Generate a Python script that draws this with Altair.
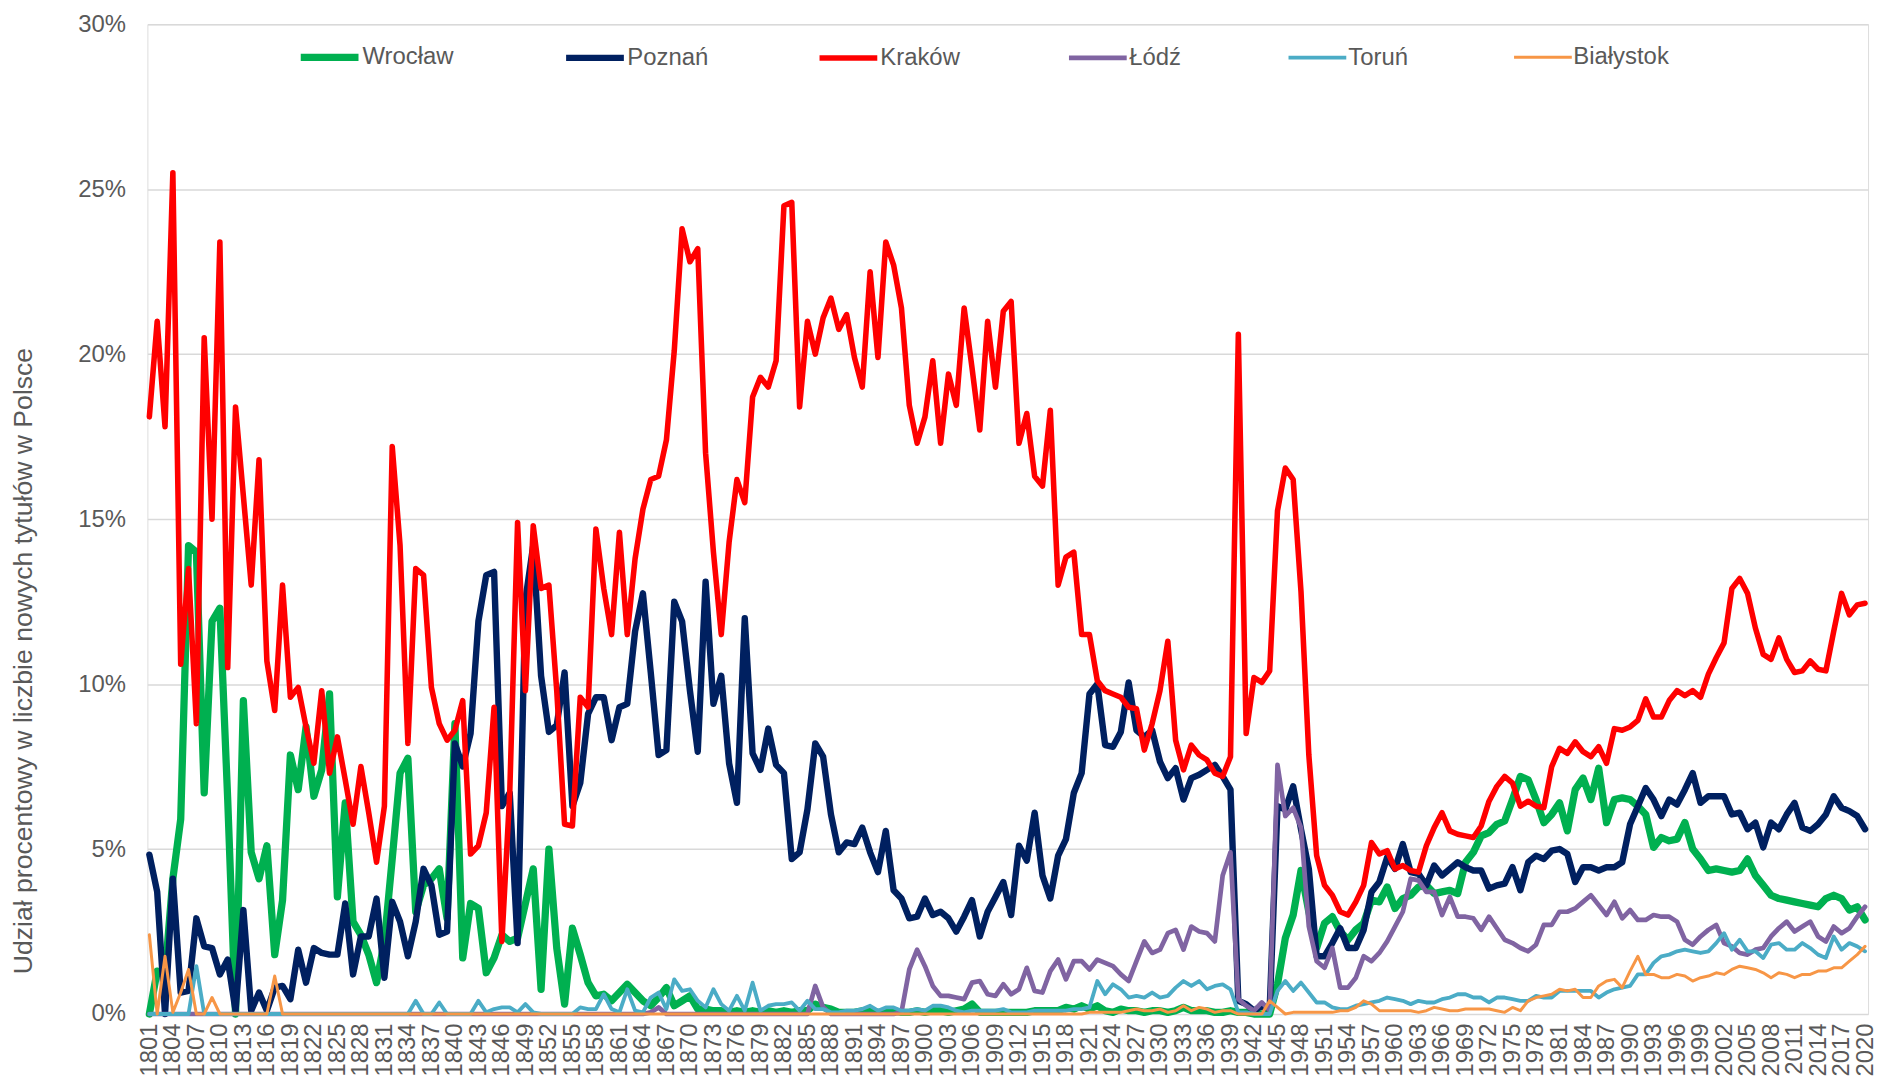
import altair as alt
import pandas as pd

YEARS = list(range(1801, 2021))
CITIES = ["Wrocław", "Poznań", "Kraków", "Łódź", "Toruń", "Białystok"]
COLORS = ["#00B050", "#002060", "#FF0000", "#8064A2", "#4BACC6", "#F79646"]
WIDTHS = [7.3, 3, 3, 3, 3, 3]
X_TICKS = list(range(1801, 2021, 3))
Y_TICKS = [0, 5, 10, 15, 20, 25, 30]

WROCLAW = [
    0, 1.3, 1.2, 4.1, 5.9, 14.2, 14.0, 6.7, 11.9, 12.3,
    6.5, 0, 9.5, 4.9, 4.1, 5.1, 1.8, 3.45, 7.85, 6.8,
    8.7, 6.6, 7.4, 9.7, 3.55, 6.4, 2.8, 2.4, 1.8, 0.95,
    2.2, 4.7, 7.3, 7.75, 3.1, 3.9, 4.1, 4.4, 2.9, 8.8,
    1.7, 3.35, 3.2, 1.25, 1.7, 2.4, 2.2, 2.3, 3.35, 4.4,
    0.75, 5.0, 2.0, 0.3, 2.6, 1.8, 0.95, 0.55, 0.6, 0.4,
    0.65, 0.9, 0.65, 0.4, 0.25, 0.5, 0.8, 0.25, 0.4, 0.55,
    0.15, 0.15, 0.1, 0.1, 0.05, 0.1, 0.05, 0.1, 0.05, 0.1,
    0.05, 0.1, 0.05, 0.1, 0.1, 0.3, 0.2, 0.15, 0.05, 0.05,
    0.05, 0.1, 0.1, 0.05, 0.05, 0.1, 0.05, 0.05, 0.1, 0.05,
    0.1, 0.1, 0.05, 0.1, 0.15, 0.3, 0.05, 0.05, 0.05, 0.05,
    0.05, 0.05, 0.05, 0.1, 0.1, 0.1, 0.1, 0.2, 0.15, 0.25,
    0.15, 0.25, 0.1, 0.05, 0.15, 0.1, 0.1, 0.05, 0.1, 0.1,
    0.05, 0.1, 0.2, 0.1, 0.1, 0.1, 0.05, 0.05, 0.1, 0.05,
    0.05, 0, 0, 0, 0.9, 2.3, 3.0, 4.35, 3.1, 2.0,
    2.75, 2.95, 2.5, 2.25, 2.55, 2.75, 3.45, 3.4, 3.85, 3.2,
    3.5, 3.6, 3.85, 3.9, 3.65, 3.7, 3.75, 3.65, 4.6, 4.9,
    5.4, 5.5, 5.75, 5.85, 6.5, 7.2, 7.1, 6.5, 5.8, 6.05,
    6.4, 5.55, 6.8, 7.15, 6.5, 7.45, 5.8, 6.5, 6.55, 6.5,
    6.3, 6.05, 5.05, 5.35, 5.25, 5.3, 5.8, 5.0, 4.7, 4.35,
    4.4, 4.35, 4.3, 4.35, 4.7, 4.2, 3.9, 3.6, 3.5, 3.45,
    3.4, 3.35, 3.3, 3.25, 3.5, 3.6, 3.5, 3.15, 3.25, 2.85,
]

POZNAN = [
    4.83, 3.7, 0, 4.1, 0.65, 0.7, 2.9, 2.05, 2.0, 1.2,
    1.65, 0.1, 3.15, 0.1, 0.65, 0.1, 0.8, 0.85, 0.45, 1.95,
    0.95, 2.0, 1.85, 1.8, 1.8, 3.35, 1.2, 2.35, 2.35, 3.5,
    1.1, 3.4, 2.8, 1.75, 2.8, 4.4, 3.9, 2.4, 2.5, 8.2,
    7.5, 8.5, 11.9, 13.3, 13.4, 6.3, 6.7, 2.15, 12.55, 14.2,
    10.25, 8.55, 8.75, 10.35, 6.3, 7.0, 9.1, 9.6, 9.6, 8.3,
    9.3, 9.4, 11.6, 12.75, 10.35, 7.85, 8.0, 12.5, 11.9, 9.8,
    7.95, 13.1, 9.4, 10.25, 7.6, 6.4, 12.0, 7.9, 7.4, 8.65,
    7.55, 7.3, 4.7, 4.9, 6.2, 8.2, 7.8, 6.05, 4.9, 5.2,
    5.15, 5.65, 4.9, 4.3, 5.55, 3.75, 3.5, 2.9, 2.95, 3.5,
    3.0, 3.1, 2.9, 2.5, 2.95, 3.45, 2.35, 3.1, 3.55, 4.0,
    3.0, 5.1, 4.65, 6.1, 4.2, 3.5, 4.8, 5.3, 6.7, 7.3,
    9.7, 10.0, 8.15, 8.1, 8.55, 10.05, 8.6, 8.4, 8.6, 7.65,
    7.15, 7.45, 6.5, 7.15, 7.25, 7.4, 7.55, 7.2, 6.8, 0.4,
    0.3, 0.1, 0.25, 0.15, 6.3, 6.2, 6.9, 5.6, 4.4, 1.75,
    1.75, 2.15, 2.6, 2.0, 2.0, 2.55, 3.7, 4.0, 4.75, 4.4,
    5.15, 4.3, 4.25, 3.9, 4.5, 4.2, 4.4, 4.6, 4.45, 4.35,
    4.35, 3.8, 3.9, 3.95, 4.45, 3.75, 4.6, 4.8, 4.7, 4.95,
    5.0, 4.85, 4.0, 4.45, 4.45, 4.35, 4.45, 4.45, 4.6, 5.75,
    6.3, 6.85, 6.5, 6.0, 6.5, 6.35, 6.8, 7.3, 6.4, 6.6,
    6.6, 6.6, 6.05, 6.1, 5.6, 5.8, 5.05, 5.8, 5.6, 6.05,
    6.4, 5.65, 5.55, 5.75, 6.05, 6.6, 6.25, 6.15, 6.0, 5.6,
]

KRAKOW = [
    18.1, 21.0, 17.8, 25.5, 10.6, 13.5, 8.8, 20.5, 15.0, 23.4,
    10.5, 18.4, 15.7, 13.0, 16.8, 10.7, 9.2, 13.0, 9.6, 9.9,
    8.7, 7.6, 9.8, 7.3, 8.4, 7.1, 5.75, 7.5, 6.1, 4.6,
    6.3, 17.2, 14.2, 8.2, 13.5, 13.3, 9.9, 8.8, 8.3, 8.6,
    9.5, 4.85, 5.1, 6.1, 9.3, 2.2, 6.7, 14.9, 9.8, 14.8,
    12.9, 13.0, 9.8, 5.75, 5.7, 9.6, 9.3, 14.7, 12.9, 11.5,
    14.6, 11.5, 13.8, 15.3, 16.2, 16.3, 17.4, 20.1, 23.8, 22.8,
    23.2, 17.0, 14.0, 11.5, 14.3, 16.2, 15.5, 18.7, 19.3, 19.0,
    19.8, 24.5, 24.6, 18.4, 21.0, 20.0, 21.1, 21.7, 20.75, 21.2,
    19.9, 19.0, 22.5, 19.9, 23.4, 22.7, 21.4, 18.45, 17.3, 18.1,
    19.8, 17.3, 19.4, 18.45, 21.4, 19.6, 17.7, 21.0, 19.0, 21.3,
    21.6, 17.3, 18.2, 16.3, 16.0, 18.3, 13.0, 13.85, 14.0, 11.5,
    11.5, 10.1, 9.8, 9.7, 9.6, 9.3, 9.25, 8.0, 8.8, 9.8,
    11.3, 8.3, 7.4, 8.15, 7.85, 7.7, 7.3, 7.2, 7.8, 20.6,
    8.5, 10.2, 10.05, 10.4, 15.25, 16.55, 16.2, 12.8, 7.85, 4.8,
    3.9, 3.6, 3.1, 3.0, 3.4, 3.9, 5.2, 4.85, 4.95, 4.4,
    4.5, 4.35, 4.3, 5.1, 5.65, 6.1, 5.55, 5.45, 5.4, 5.35,
    5.7, 6.45, 6.9, 7.2, 7.0, 6.3, 6.45, 6.3, 6.25, 7.5,
    8.05, 7.9, 8.25, 7.95, 7.8, 8.1, 7.6, 8.65, 8.6, 8.7,
    8.9, 9.55, 9.0, 9.0, 9.5, 9.8, 9.65, 9.8, 9.6, 10.3,
    10.8, 11.25, 12.9, 13.2, 12.75, 11.7, 10.9, 10.75, 11.4, 10.75,
    10.35, 10.4, 10.7, 10.45, 10.4, 11.6, 12.75, 12.1, 12.4, 12.45,
]

LODZ = [
    0, 0, 0, 0, 0, 0, 0, 0, 0, 0,
    0, 0, 0, 0, 0, 0, 0, 0, 0, 0,
    0, 0, 0, 0, 0, 0, 0, 0, 0, 0,
    0, 0, 0, 0, 0, 0, 0, 0, 0, 0,
    0, 0, 0, 0, 0, 0, 0, 0, 0, 0,
    0, 0, 0, 0, 0, 0, 0, 0, 0, 0,
    0, 0, 0, 0, 0.05, 0.2, 0, 0, 0, 0,
    0, 0, 0, 0, 0, 0, 0, 0, 0, 0,
    0, 0, 0, 0, 0, 0.85, 0.2, 0, 0, 0,
    0, 0, 0, 0, 0, 0, 0.05, 1.35, 1.95, 1.45,
    0.85, 0.55, 0.55, 0.5, 0.45, 0.95, 1.0, 0.6, 0.55, 0.9,
    0.6, 0.75, 1.4, 0.7, 0.65, 1.3, 1.65, 1.05, 1.6, 1.6,
    1.35, 1.65, 1.55, 1.45, 1.2, 1.0, 1.6, 2.2, 1.85, 1.95,
    2.45, 2.55, 1.95, 2.65, 2.5, 2.45, 2.2, 4.2, 4.9, 0.45,
    0.25, 0.1, 0.35, 0.1, 7.55, 6.0, 6.25, 5.65, 2.65, 1.6,
    1.4, 2.0, 0.8, 0.8, 1.1, 1.75, 1.6, 1.85, 2.2, 2.65,
    3.1, 4.1, 4.05, 3.7, 3.7, 3.0, 3.55, 2.95, 2.95, 2.9,
    2.55, 2.95, 2.6, 2.25, 2.15, 2.0, 1.9, 2.1, 2.7, 2.7,
    3.1, 3.1, 3.2, 3.4, 3.6, 3.3, 3.0, 3.4, 2.9, 3.15,
    2.85, 2.85, 3.0, 2.95, 2.95, 2.8, 2.25, 2.1, 2.35, 2.55,
    2.7, 2.15, 2.05, 1.85, 1.8, 1.95, 2.0, 2.35, 2.6, 2.8,
    2.5, 2.65, 2.8, 2.35, 2.2, 2.65, 2.45, 2.6, 2.95, 3.25,
]

TORUN = [
    0, 0, 0, 0, 0, 0, 1.45, 0, 0, 0,
    0, 0, 0, 0, 0, 0, 0, 0, 0, 0,
    0, 0, 0, 0, 0, 0, 0, 0, 0, 0,
    0, 0, 0, 0, 0.4, 0, 0, 0.35, 0, 0,
    0, 0, 0.4, 0.05, 0.15, 0.2, 0.2, 0.05, 0.3, 0.05,
    0, 0, 0, 0, 0, 0.2, 0.15, 0.15, 0.6, 0.15,
    0.05, 0.75, 0.1, 0.05, 0.5, 0.65, 0.15, 1.05, 0.7, 0.75,
    0.4, 0.2, 0.75, 0.3, 0.1, 0.55, 0.1, 0.95, 0.1, 0.25,
    0.3, 0.3, 0.35, 0.1, 0.4, 0.15, 0.15, 0.05, 0.05, 0.1,
    0.1, 0.15, 0.25, 0.1, 0.2, 0.2, 0.1, 0.1, 0.15, 0.1,
    0.25, 0.25, 0.2, 0.1, 0.05, 0.1, 0.1, 0.1, 0.1, 0.15,
    0.05, 0.05, 0.05, 0.1, 0.1, 0.1, 0.1, 0.1, 0.15, 0.15,
    0.2, 1.0, 0.6, 0.9, 0.75, 0.5, 0.55, 0.5, 0.65, 0.5,
    0.55, 0.8, 1.0, 0.85, 1.0, 0.75, 0.85, 0.9, 0.75, 0.05,
    0.05, 0, 0, 0, 0.7, 1.0, 0.7, 0.95, 0.65, 0.35,
    0.35, 0.2, 0.15, 0.15, 0.25, 0.3, 0.35, 0.4, 0.5, 0.45,
    0.4, 0.3, 0.4, 0.35, 0.35, 0.45, 0.5, 0.6, 0.6, 0.5,
    0.5, 0.35, 0.5, 0.5, 0.45, 0.4, 0.4, 0.55, 0.5, 0.5,
    0.7, 0.7, 0.7, 0.7, 0.7, 0.5, 0.65, 0.75, 0.8, 0.85,
    1.2, 1.2, 1.55, 1.75, 1.8, 1.9, 1.95, 1.9, 1.85, 1.9,
    2.15, 2.45, 1.95, 2.25, 1.9, 1.9, 1.7, 2.1, 2.15, 1.95,
    1.95, 2.15, 2.0, 1.8, 1.7, 2.35, 1.95, 2.15, 2.05, 1.9,
]

BIALYSTOK = [
    2.4, 0, 1.75, 0.05, 0.65, 1.35, 0, 0, 0.5, 0,
    0, 0, 0, 0, 0, 0, 1.15, 0, 0, 0,
    0, 0, 0, 0, 0, 0, 0, 0, 0, 0,
    0, 0, 0, 0, 0, 0, 0, 0, 0, 0,
    0, 0, 0, 0, 0, 0, 0, 0, 0, 0,
    0, 0, 0, 0, 0, 0, 0, 0, 0, 0,
    0, 0, 0, 0, 0, 0, 0, 0, 0, 0,
    0, 0, 0, 0, 0, 0, 0, 0, 0, 0,
    0, 0, 0, 0, 0, 0, 0, 0, 0, 0,
    0, 0, 0, 0, 0, 0, 0, 0, 0, 0,
    0, 0, 0, 0, 0, 0, 0, 0, 0, 0,
    0, 0, 0, 0, 0, 0, 0, 0, 0, 0,
    0.05, 0.05, 0.05, 0.05, 0.05, 0.1, 0.15, 0.1, 0.1, 0.15,
    0.05, 0.1, 0.25, 0.1, 0.2, 0.15, 0.05, 0.1, 0.1, 0,
    0, 0, 0, 0.4, 0.2, 0, 0.05, 0.05, 0.05, 0.05,
    0.05, 0.05, 0.1, 0.1, 0.2, 0.4, 0.3, 0.1, 0.1, 0.1,
    0.1, 0.1, 0.05, 0.1, 0.2, 0.15, 0.1, 0.1, 0.15, 0.15,
    0.15, 0.15, 0.1, 0.05, 0.2, 0.1, 0.4, 0.5, 0.55, 0.6,
    0.75, 0.7, 0.75, 0.5, 0.5, 0.85, 1.0, 1.05, 0.8, 1.3,
    1.75, 1.2, 1.2, 1.1, 1.1, 1.2, 1.15, 1.0, 1.1, 1.15,
    1.25, 1.2, 1.35, 1.45, 1.4, 1.35, 1.25, 1.1, 1.25, 1.2,
    1.1, 1.2, 1.2, 1.3, 1.3, 1.4, 1.4, 1.6, 1.8, 2.05,
]

SERIES = [WROCLAW, POZNAN, KRAKOW, LODZ, TORUN, BIALYSTOK]

rows = []
for city, vals in zip(CITIES, SERIES):
    assert len(vals) == len(YEARS), (city, len(vals))
    for yr, v in zip(YEARS, vals):
        rows.append({"year": yr, "city": city, "share": v})
df = pd.DataFrame(rows)

FONT = "Liberation Sans"
TXT = "#595959"

x_enc = alt.X(
    "year:Q",
    scale=alt.Scale(domain=[1800.75, 2020.38], nice=False, zero=False),
    axis=alt.Axis(values=X_TICKS, format="d", labelAngle=-90, labelFontSize=24,
                  labelColor=TXT, labelPadding=9, domain=False, ticks=False,
                  grid=False, title=None, labelOverlap=False, labelFont=FONT),
)
y_enc = alt.Y(
    "share:Q",
    scale=alt.Scale(domain=[0, 30], nice=False),
    axis=alt.Axis(values=Y_TICKS, labelExpr="datum.value + '%'", labelFontSize=24,
                  labelColor=TXT, labelPadding=22, domain=False, ticks=False,
                  gridColor="#D9D9D9", gridWidth=1.5, labelFont=FONT,
                  title="Udział procentowy w liczbie nowych tytułów w Polsce",
                  titleFontSize=26.7, titleColor=TXT, titleFontWeight="normal",
                  titleFont=FONT, titleX=-124, titleY=639, titleAngle=270,
                  titleAlign="center", titleBaseline="middle"),
)
legend = alt.Legend(title=None, orient="none", legendX=150, legendY=0,
                    direction="horizontal", symbolType="stroke", symbolSize=3364,
                    labelFontSize=24, labelColor=TXT, labelFont=FONT, labelOffset=0,
                    columnPadding=99, padding=0, symbolStrokeWidth=3)
color_enc = alt.Color("city:N", scale=alt.Scale(domain=CITIES, range=COLORS), legend=legend)
sw_enc = alt.StrokeWidth("city:N", scale=alt.Scale(domain=CITIES, range=WIDTHS), legend=legend)

layers = []
for city in CITIES:
    layers.append(
        alt.Chart(df)
        .transform_filter(alt.datum.city == city)
        .mark_line(strokeJoin="round", strokeCap="round")
        .encode(x=x_enc, y=y_enc, color=color_enc, strokeWidth=sw_enc)
    )

chart = (
    alt.layer(*layers)
    .properties(width=1728, height=994,
                autosize=alt.AutoSizeParams(type="none"),
                padding={"left": 140, "top": 14, "right": 10, "bottom": 70})
    .configure_view(stroke=None)
    .configure(font=FONT)
)

chart.save("out.html", embed_options={"renderer": "svg", "actions": False})
